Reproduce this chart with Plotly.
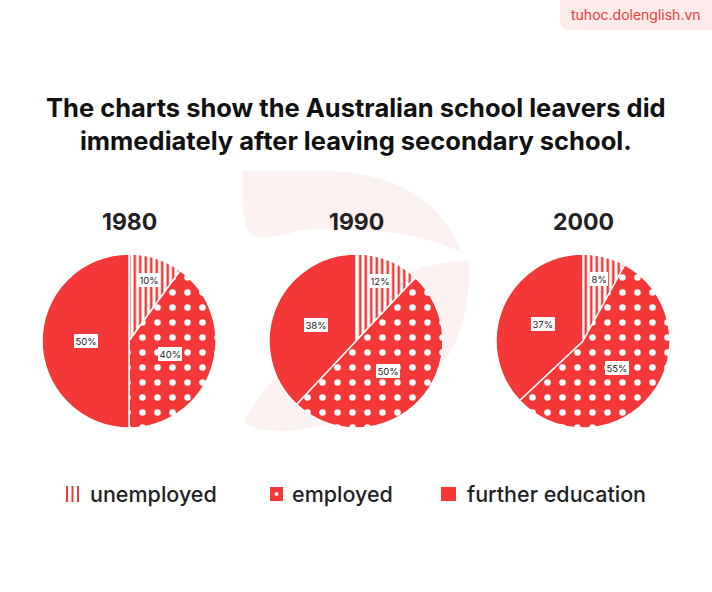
import math
import plotly.graph_objects as go

# ---------------- data ----------------
years = ["1980", "1990", "2000"]
categories = ["unemployed", "employed", "further education"]
unemployed = [10, 12, 8]
employed = [40, 50, 55]
further_education = [50, 38, 37]
title_text = ("The charts show the Australian school leavers did<br>"
              "immediately after leaving secondary school.")
watermark = "tuhoc.dolenglish.vn"

# ---------------- style ----------------
W, H = 712, 592
RED = "#F43737"
DARK = "#1F2124"
FONT = "Inter"
centers_x = [129, 356, 583]
center_y = 341
R = 87

fig = go.Figure()
# invisible trace so the pixel-based cartesian frame exists for shapes/annotations
fig.add_trace(go.Scatter(x=[0], y=[0], mode="markers", marker=dict(opacity=0),
                         hoverinfo="skip", showlegend=False))

def px_dom(x0, x1, y0, y1):
    return dict(x=[x0 / W, x1 / W], y=[1 - y1 / H, 1 - y0 / H])

for i, yr in enumerate(years):
    vals = [unemployed[i], employed[i], further_education[i]]
    cx = centers_x[i]
    fig.add_trace(go.Pie(
        labels=categories, values=vals, sort=False, direction="clockwise",
        rotation=0, textinfo="none", hoverinfo="label+percent",
        showlegend=False,
        domain=px_dom(cx - R, cx + R, center_y - R, center_y + R),
        marker=dict(
            colors=["white", RED, RED],
            line=dict(color="white", width=1.5),
            pattern=dict(
                shape=["|", ".", ""],
                fillmode="replace",
                bgcolor=["white", RED, RED],
                fgcolor=[RED, "white", RED],
                size=[5.5, 15, 8],
                solidity=[0.45, 0.15, 0.3],
            ),
        ),
    ))
    fig.add_annotation(x=cx, y=222, text=f"<b>{yr}</b>", showarrow=False,
                       font=dict(family=FONT, size=23, color=DARK),
                       xanchor="center", yanchor="middle")
    total = sum(vals)
    cum = 0
    for v in vals:
        frac = v / total
        theta = math.radians((cum + frac / 2) * 360)
        cum += frac
        rf = 0.74 if frac < 0.15 else 0.5
        lx = cx + rf * R * math.sin(theta)
        ly = center_y - rf * R * math.cos(theta)
        fig.add_annotation(x=lx, y=ly, text=f"{v}%", showarrow=False,
                           font=dict(family=FONT, size=9.5, color=DARK),
                           bgcolor="white", borderpad=1.5, borderwidth=0,
                           xanchor="center", yanchor="middle")

shapes = []
shapes.append(dict(type="path", layer="below", line=dict(width=0),
                   fillcolor="#FCF1F1",
                   path="M 243 171 L 330 171 Q 430 175 462 252 Q 400 224 300 230 "
                        "Q 262 243 250 234 Q 243 226 243 200 Z"))
shapes.append(dict(type="path", layer="below", line=dict(width=0),
                   fillcolor="#FCF1F1",
                   path="M 420 268 Q 445 262 468 260 Q 476 360 390 410 "
                        "L 300 430 Q 250 434 244 420 Q 300 330 420 268 Z"))
shapes.append(dict(type="path", layer="below", line=dict(width=0),
                   fillcolor="#FDEAEA",
                   path="M 560 -5 L 712 -5 L 712 30 L 570 30 Q 560 30 560 20 Z"))

lx0 = 66
for k in range(3):
    shapes.append(dict(type="rect", x0=lx0 + k * 5.5, x1=lx0 + k * 5.5 + 2,
                       y0=486, y1=502, fillcolor=RED, line=dict(width=0)))
shapes.append(dict(type="rect", x0=270, x1=283, y0=487, y1=501,
                   fillcolor=RED, line=dict(width=0)))
shapes.append(dict(type="circle", x0=274.5, x1=278.5, y0=492, y1=496,
                   fillcolor="white", line=dict(width=0)))
shapes.append(dict(type="rect", x0=441, x1=456, y0=487, y1=501,
                   fillcolor=RED, line=dict(width=0)))

legend_x = [88, 290, 465]
for x, name in zip(legend_x, categories):
    fig.add_annotation(x=x, y=494, text=name, showarrow=False,
                       font=dict(family=FONT, size=21.5, color=DARK, weight=500),
                       xanchor="left", yanchor="middle")

fig.add_annotation(x=356, y=124, text=f"<b>{title_text}</b>", showarrow=False,
                   font=dict(family=FONT, size=25.5, color="#111111"),
                   xanchor="center", yanchor="middle", align="center")
fig.add_annotation(x=636, y=14, text=watermark, showarrow=False,
                   font=dict(family=FONT, size=14, color="#F23A3A"),
                   xanchor="center", yanchor="middle")

fig.update_layout(
    width=W, height=H, margin=dict(l=0, r=0, t=0, b=0),
    paper_bgcolor="white", plot_bgcolor="white",
    xaxis=dict(range=[0, W], visible=False, fixedrange=True),
    yaxis=dict(range=[H, 0], visible=False, fixedrange=True),
    shapes=shapes,
)

fig.write_html("out.html")
